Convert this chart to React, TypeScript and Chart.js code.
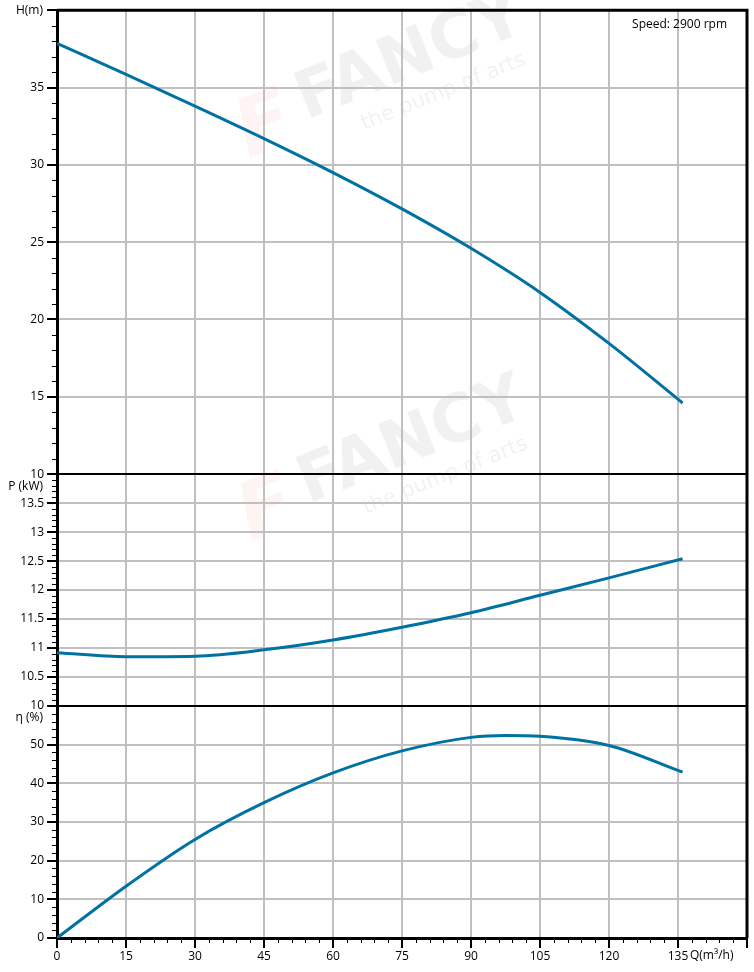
import React, { useEffect, useRef } from 'react';
import { Chart, registerables } from 'chart.js';

Chart.register(...registerables);

// ---- data ----
const flowQ = [0, 15, 30, 45, 60, 75, 90, 105, 120, 136];
const headH = [37.85, 35.85, 33.8, 31.7, 29.5, 27.15, 24.6, 21.75, 18.45, 14.6];
const powerP = [10.92, 10.85, 10.86, 10.97, 11.14, 11.36, 11.61, 11.91, 12.21, 12.54];
const effQ = [0, 15, 30, 45, 60, 75, 90, 97.5, 105, 120, 136];
const effE = [0, 13.4, 25.5, 35.0, 42.7, 48.4, 51.9, 52.4, 52.2, 49.8, 42.9];

const xMin = 0, xMax = 150, xStep = 15, xMinor = 3;
const hMin = 10, hMax = 40, hStep = 5, hMinor = 1;
const pMin = 10, pMax = 14, pStep = 0.5, pMinor = 0.1;
const eMin = 0, eMax = 60, eStep = 10, eMinor = 2;

const titleH = 'H(m)';
const titleP = 'P (kW)';
const titleE = 'η (%)';
const titleQ = 'Q(m³/h)';
const speedText = 'Speed: 2900 rpm';

const FONT = "'Open Sans', 'Noto Sans', sans-serif";
const CURVE = '#0071a3';
const GRID = '#c0c0c0';

function gridColor(min: number, max: number) {
  return (c: any) => {
    const v = c.tick ? c.tick.value : null;
    if (v === null) return GRID;
    if (Math.abs(v - min) < 1e-9 || Math.abs(v - max) < 1e-9) return 'rgba(0,0,0,0)';
    return GRID;
  };
}

function yScale(min: number, max: number, step: number, weight: number) {
  return {
    type: 'linear',
    position: 'left',
    stack: 'pump',
    stackWeight: weight,
    min,
    max,
    afterFit: (s: any) => { s.width = 57; },
    border: { display: true, color: '#000', width: 3 },
    grid: {
      color: gridColor(min, max),
      lineWidth: 2,
      drawTicks: true,
      tickLength: 10,
      tickColor: '#000',
      tickWidth: 2,
    },
    ticks: {
      stepSize: step,
      autoSkip: false,
      padding: 3,
      color: '#000',
      font: { family: FONT, size: 12 },
      callback: (v: any) => (Math.abs(v - max) < 1e-9 ? '' : String(Math.round(v * 10) / 10)),
    },
  };
}

function drawWatermark(ctx: CanvasRenderingContext2D, x: number, y: number) {
  ctx.save();
  ctx.translate(x, y);
  ctx.rotate((-22 * Math.PI) / 180);
  ctx.textBaseline = 'alphabetic';
  ctx.textAlign = 'left';
  ctx.fillStyle = 'rgba(235, 60, 60, 0.055)';
  ctx.font = "italic bold 80px 'DejaVu Sans'";
  ctx.fillText('F', -68, 14);
  ctx.fillStyle = 'rgba(0, 0, 0, 0.055)';
  ctx.font = "bold 66px 'DejaVu Sans'";
  ctx.fillText('FANCY', 0, 0);
  ctx.font = "21px 'DejaVu Sans'";
  ctx.fillText('the pump of arts', 50, 31);
  ctx.restore();
}

const decorPlugin = {
  id: 'decor',
  beforeDraw(chart: any) {
    const ctx = chart.ctx;
    drawWatermark(ctx, 306, 120);
    drawWatermark(ctx, 308, 504);
  },
  afterDraw(chart: any) {
    const ctx: CanvasRenderingContext2D = chart.ctx;
    const a = chart.chartArea;
    const sx = chart.scales.x;
    const sH = chart.scales.yH;
    const sP = chart.scales.yP;
    const sE = chart.scales.yE;
    ctx.save();
    // minor ticks
    ctx.strokeStyle = '#000';
    ctx.lineWidth = 1;
    const minorY = (s: any, min: number, max: number, step: number, major: number) => {
      const n = Math.round((max - min) / step);
      for (let i = 0; i <= n; i++) {
        const v = min + i * step;
        const r = (v - min) / major;
        if (Math.abs(r - Math.round(r)) < 1e-6) continue;
        const py = Math.round(s.getPixelForValue(v)) + 0.5;
        ctx.beginPath();
        ctx.moveTo(a.left - 5, py);
        ctx.lineTo(a.left, py);
        ctx.stroke();
      }
    };
    minorY(sH, hMin, hMax, hMinor, hStep);
    minorY(sP, pMin, pMax, pMinor, pStep);
    minorY(sE, eMin, eMax, eMinor, eStep);
    {
      const n = Math.round((xMax - xMin) / xMinor);
      for (let i = 0; i <= n; i++) {
        const v = xMin + i * xMinor;
        const r = (v - xMin) / xStep;
        if (Math.abs(r - Math.round(r)) < 1e-6) continue;
        const px = Math.round(sx.getPixelForValue(v)) + 0.5;
        ctx.beginPath();
        ctx.moveTo(px, a.bottom);
        ctx.lineTo(px, a.bottom + 5);
        ctx.stroke();
      }
    }
    // panel separators
    ctx.lineWidth = 2;
    [sH.bottom, sP.bottom].forEach((yy: number) => {
      ctx.beginPath();
      ctx.moveTo(a.left, yy);
      ctx.lineTo(a.right, yy);
      ctx.stroke();
    });
    // frame
    ctx.lineWidth = 3;
    ctx.beginPath();
    ctx.moveTo(a.left, a.top);
    ctx.lineTo(a.right, a.top);
    ctx.lineTo(a.right, a.bottom);
    ctx.stroke();

    // titles
    ctx.fillStyle = '#000';
    ctx.font = `12px ${FONT}`;
    ctx.textAlign = 'right';
    ctx.textBaseline = 'middle';
    ctx.fillText(titleH, 43, sH.top);
    ctx.fillText(titleP, 43, sP.top + 12);
    ctx.fillText(titleE, 43, sE.top + 12);
    ctx.textAlign = 'left';
    ctx.fillText(titleQ, sx.getPixelForValue(135) + 12, a.bottom + 18);
    ctx.textAlign = 'right';
    ctx.fillText(speedText, a.right - 20, a.top + 14);
    ctx.restore();
  },
};

export default function App() {
  const ref = useRef<HTMLCanvasElement | null>(null);
  useEffect(() => {
    if (!ref.current) return;
    const line = (xs: number[], ys: number[], axis: string) => ({
      data: xs.map((q, i) => ({ x: q, y: ys[i] })),
      yAxisID: axis,
      xAxisID: 'x',
      borderColor: CURVE,
      borderWidth: 3,
      pointRadius: 0,
      fill: false,
      cubicInterpolationMode: 'monotone',
    });
    const chart = new Chart(ref.current, {
      type: 'line',
      data: {
        datasets: [
          line(effQ, effE, 'yE') as any,
          line(flowQ, powerP, 'yP') as any,
          line(flowQ, headH, 'yH') as any,
        ],
      },
      options: {
        animation: false,
        responsive: false,
        devicePixelRatio: 1,
        layout: { padding: { top: 10, right: 7, left: 0, bottom: 0 } },
        plugins: { legend: { display: false }, tooltip: { enabled: false } },
        scales: {
          x: {
            type: 'linear',
            position: 'bottom',
            min: xMin,
            max: xMax,
            afterFit: (s: any) => { s.height = 34; },
            border: { display: true, color: '#000', width: 3 },
            grid: {
              color: gridColor(xMin, xMax),
              lineWidth: 2,
              drawTicks: true,
              tickLength: 10,
              tickColor: '#000',
              tickWidth: 2,
            },
            ticks: {
              stepSize: xStep,
              autoSkip: false,
              maxRotation: 0,
              padding: 1,
              color: '#000',
              font: { family: FONT, size: 12 },
              callback: (v: any) => (v >= xMax ? '' : String(v)),
            },
          },
          yE: yScale(eMin, eMax, eStep, 1) as any,
          yP: yScale(pMin, pMax, pStep, 1) as any,
          yH: yScale(hMin, hMax, hStep, 2) as any,
        },
      },
      plugins: [decorPlugin],
    });
    return () => chart.destroy();
  }, []);
  return (
    <div style={{ position: 'absolute', left: 0, top: 0, width: 754, height: 972 }}>
      <canvas ref={ref} width={754} height={972} style={{ width: 754, height: 972 }} />
    </div>
  );
}
